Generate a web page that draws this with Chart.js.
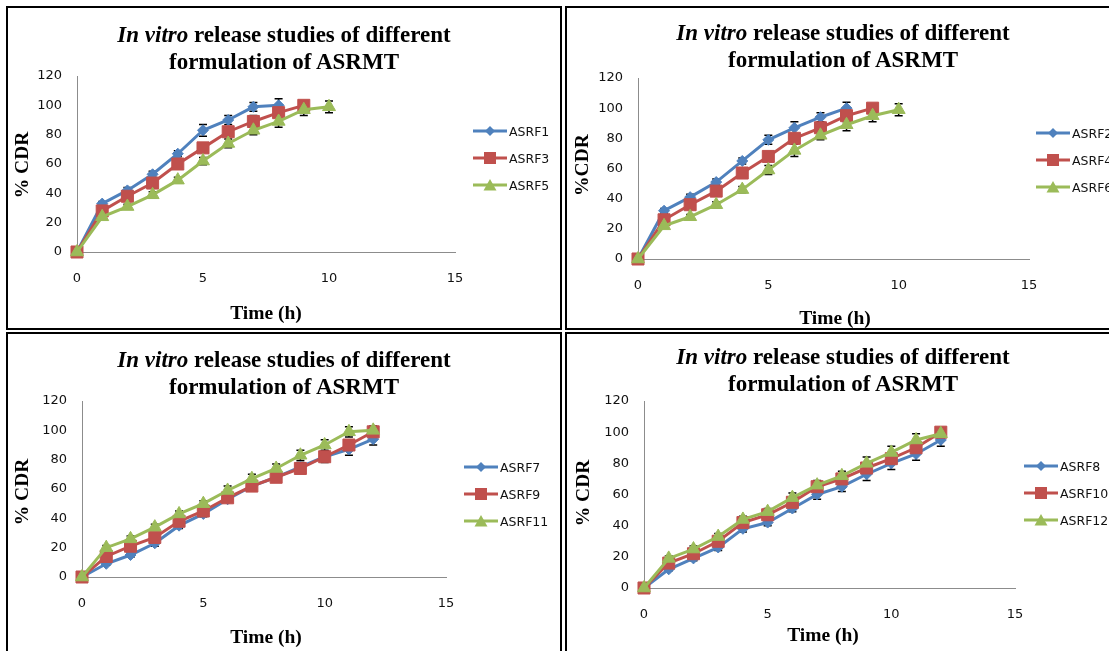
<!DOCTYPE html>
<html>
<head>
<meta charset="utf-8">
<script src="https://cdn.jsdelivr.net/npm/chart.js@4.4.0/dist/chart.umd.min.js"></script>
<style>
  body { margin: 0; width: 1109px; height: 651px; overflow: hidden; background: #fff; position: relative; }
  .panel { position: absolute; box-sizing: border-box; border: 2px solid #000; }
  canvas { position: absolute; }
  .titulo { position: absolute; text-align: center; font: bold 23px "Liberation Serif", serif; line-height: 27px; color: #000; }
  .ytit, .xtit { position: absolute; font: bold 19.5px "Liberation Serif", serif; white-space: nowrap; color: #000; }
  .ytit { transform: translate(-50%, -50%) rotate(-90deg); }
  .xtit { transform: translate(-50%, -50%); }
  .leyenda { position: absolute; font: 12.5px "DejaVu Sans", sans-serif; color: #111; }
  .leyenda div { height: 27px; display: flex; align-items: center; }
  .leyenda svg { margin-right: 2px; }
</style>
</head>
<body>
<script>
// Tiempos (h)
const tiempo8 = [0, 1, 2, 3, 4, 5, 6, 7, 8];
const tiempo9 = [0, 1, 2, 3, 4, 5, 6, 7, 8, 9];
const tiempo10 = [0, 1, 2, 3, 4, 5, 6, 7, 8, 9, 10];
const tiempo12 = [0, 1, 2, 3, 4, 5, 6, 7, 8, 9, 10, 11, 12];

// % CDR de cada formulacion
const asrf1 = [0, 33, 42, 53, 67, 83, 90, 99, 100];
const asrf3 = [0, 28, 38, 47, 60, 71, 82, 89, 95, 100];
const asrf5 = [0, 24, 31, 39, 49, 62, 74, 83, 89, 97, 99];

const asrf2 = [0, 32, 41, 51, 65, 79, 87, 94, 100];
const asrf4 = [0, 26, 36, 45, 57, 68, 80, 87, 95, 100];
const asrf6 = [0, 22, 28, 36, 46, 59, 72, 82, 89, 95, 99];

const asrf7 = [0, 9, 15, 23, 35, 43, 53, 62, 68, 75, 82, 87, 94];
const asrf9 = [0, 14, 21, 27, 38, 45, 54, 62, 68, 74, 82, 90, 99];
const asrf11 = [0, 20, 26, 34, 43, 50, 59, 67, 74, 83, 90, 99, 100];

const asrf8 = [0, 12, 19, 26, 38, 42, 51, 60, 65, 73, 80, 86, 95];
const asrf10 = [0, 16, 22, 30, 42, 47, 55, 65, 70, 77, 83, 90, 100];
const asrf12 = [0, 19, 25, 33, 44, 49, 58, 66, 72, 80, 87, 95, 99];

// desviaciones (barras de error)
const err1 = [0, 1.5, 2, 2, 2, 4, 3, 3, 4.5];
const err3 = [0, 1.5, 2, 2, 2, 3, 3, 4, 3.5, 3];
const err5 = [0, 1.5, 1.5, 2, 2, 2.5, 3, 3, 4, 4, 4];
const err2 = [0, 1.5, 2, 2, 2, 3, 4, 3, 4];
const err4 = [0, 1.5, 2, 2, 2, 3, 3, 3, 4, 3];
const err6 = [0, 1.5, 1.5, 2, 2, 3, 4, 3, 4, 4, 4];
const err7 = [0, 1, 1.5, 2, 2, 2, 2, 2, 2, 3, 4, 4, 4];
const err9 = [0, 1.5, 2, 2, 2, 2, 2, 2, 2, 3, 3, 3, 3];
const err11 = [0, 1.5, 2, 2, 2, 2, 3, 3, 3, 3.5, 3.5, 3.5, 3];
const err8 = [0, 1, 1.5, 2, 2, 2, 2, 3, 3, 4, 4, 4, 4];
const err10 = [0, 1.5, 2, 2, 2, 2, 2, 2, 2, 3, 3, 3, 2];
const err12 = [0, 1.5, 2, 2, 2, 2, 3, 3, 3, 4, 4, 4, 3];

const ticksX = [0, 5, 10, 15];
const ticksY = [0, 20, 40, 60, 80, 100, 120];

const colores = ['#4F81BD', '#C0504D', '#9BBB59'];
const estilos = ['rectRot', 'rect', 'triangle'];
const radios = [5.5, 8.5, 7.5];

const YW = 50, XH = 40;

// caja: [left, top, ancho, alto]; area: [x0, x15, y0, y120]
var paneles = [
  { caja: [6, 6, 556, 324], area: [77, 455, 252, 76], tituloY: 35, ytit: ['% CDR', 22, 165], xtit: [266, 313], ley: [473, 131],
    series: [['ASRF1', tiempo8, asrf1, err1], ['ASRF3', tiempo9, asrf3, err3], ['ASRF5', tiempo10, asrf5, err5]] },
  { caja: [565, 6, 556, 324], area: [638, 1029, 259, 78], tituloY: 33, ytit: ['%CDR', 582, 165], xtit: [835, 318], ley: [1036, 133],
    series: [['ASRF2', tiempo8, asrf2, err2], ['ASRF4', tiempo9, asrf4, err4], ['ASRF6', tiempo10, asrf6, err6]] },
  { caja: [6, 332, 556, 330], area: [82, 446, 577, 401], tituloY: 360, ytit: ['% CDR', 22, 492], xtit: [266, 637], ley: [464, 467],
    series: [['ASRF7', tiempo12, asrf7, err7], ['ASRF9', tiempo12, asrf9, err9], ['ASRF11', tiempo12, asrf11, err11]] },
  { caja: [565, 332, 556, 330], area: [644, 1015, 588, 401], tituloY: 357, ytit: ['% CDR', 583, 493], xtit: [823, 635], ley: [1024, 466],
    series: [['ASRF8', tiempo12, asrf8, err8], ['ASRF10', tiempo12, asrf10, err10], ['ASRF12', tiempo12, asrf12, err12]] }
];

// barras de error dibujadas con las escalas de la grafica
const barrasError = {
  id: 'barrasError',
  beforeDatasetsDraw(chart) {
    const ctx = chart.ctx, xs = chart.scales.x, ys = chart.scales.y;
    ctx.save();
    ctx.strokeStyle = '#000';
    ctx.lineWidth = 1.5;
    chart.data.datasets.forEach(function (ds) {
      ds.data.forEach(function (p, k) {
        const e = ds.errores[k];
        if (!e) return;
        const px = xs.getPixelForValue(p.x);
        const arriba = ys.getPixelForValue(p.y + e);
        const abajo = ys.getPixelForValue(p.y - e);
        ctx.beginPath();
        ctx.moveTo(px, arriba); ctx.lineTo(px, abajo);
        ctx.moveTo(px - 4, arriba); ctx.lineTo(px + 4, arriba);
        ctx.moveTo(px - 4, abajo); ctx.lineTo(px + 4, abajo);
        ctx.stroke();
      });
    });
    ctx.restore();
  }
};

function simbolo(i) {
  const c = colores[i];
  let m;
  if (i == 0) m = '<polygon points="17,2 22,7 17,12 12,7" fill="' + c + '"/>';
  else if (i == 1) m = '<rect x="11" y="1" width="12" height="12" fill="' + c + '"/>';
  else m = '<polygon points="17,1 23.5,12.5 10.5,12.5" fill="' + c + '"/>';
  return '<svg width="34" height="14"><line x1="0" y1="7" x2="34" y2="7" stroke="' + c + '" stroke-width="3"/>' + m + '</svg>';
}

function agregar(clase, html, x, y) {
  const d = document.createElement('div');
  d.className = clase;
  d.innerHTML = html;
  d.style.left = x + 'px';
  d.style.top = y + 'px';
  document.body.appendChild(d);
  return d;
}

function crearPanel(p) {
  const [bl, bt, bw, bh] = p.caja;
  const [x0, x15, y0, y120] = p.area;

  const cv = document.createElement('canvas');
  cv.width = bw; cv.height = bh;
  cv.style.left = bl + 'px'; cv.style.top = bt + 'px';
  cv.style.width = bw + 'px'; cv.style.height = bh + 'px';
  document.body.appendChild(cv);

  const datasets = p.series.map(function (s, i) {
    return {
      label: s[0],
      data: s[1].map(function (t, k) { return { x: t, y: s[2][k] }; }),
      errores: s[3],
      borderColor: colores[i],
      backgroundColor: colores[i],
      pointBackgroundColor: colores[i],
      pointBorderColor: colores[i],
      pointStyle: estilos[i],
      pointRadius: radios[i],
      pointBorderWidth: 1,
      borderWidth: 3,
      tension: 0,
      clip: false,
      order: 2 - i
    };
  });

  const fuenteTicks = { family: 'DejaVu Sans', size: 13 };

  new Chart(cv, {
    type: 'line',
    data: { datasets: datasets },
    options: {
      responsive: false,
      animation: false,
      devicePixelRatio: 1,
      layout: {
        padding: { left: x0 - bl - YW, top: y120 - bt, right: bl + bw - x15, bottom: bt + bh - y0 - XH }
      },
      plugins: { legend: { display: false }, tooltip: { enabled: false } },
      scales: {
        x: {
          type: 'linear', min: 0, max: 15,
          afterBuildTicks: function (s) { s.ticks = ticksX.map(v => ({ value: v })); },
          afterFit: function (s) { s.height = XH; },
          ticks: { padding: 11, color: '#111', font: fuenteTicks, maxRotation: 0 },
          grid: { display: false },
          border: { color: '#8C8C8C', width: 1 }
        },
        y: {
          min: 0, max: 120,
          afterBuildTicks: function (s) { s.ticks = ticksY.map(v => ({ value: v })); },
          afterFit: function (s) { s.width = YW; },
          ticks: { padding: 7, color: '#111', font: fuenteTicks },
          grid: { display: false },
          border: { color: '#8C8C8C', width: 1 }
        }
      }
    },
    plugins: [barrasError]
  });

  const marco = agregar('panel', '', bl, bt);
  marco.style.width = bw + 'px';
  marco.style.height = bh + 'px';

  const t = agregar('titulo', '<i>In vitro</i> release studies of different<br>formulation of ASRMT', bl, p.tituloY - 14);
  t.style.width = bw + 'px';

  agregar('ytit', p.ytit[0], p.ytit[1], p.ytit[2]);
  agregar('xtit', 'Time (h)', p.xtit[0], p.xtit[1]);

  let filas = '';
  p.series.forEach(function (s, i) { filas += '<div>' + simbolo(i) + s[0] + '</div>'; });
  agregar('leyenda', filas, p.ley[0], p.ley[1] - 13.5);
}

paneles.forEach(crearPanel);
</script>
</body>
</html>
